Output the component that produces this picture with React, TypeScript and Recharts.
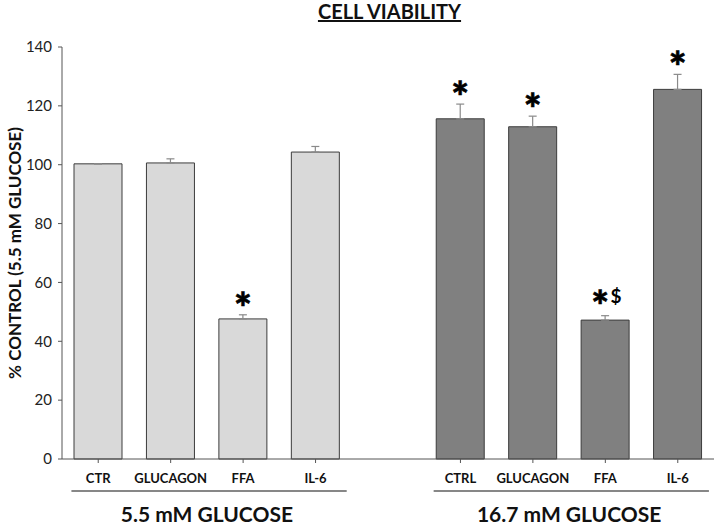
import React from 'react';
import { BarChart, Bar, XAxis, YAxis, Cell, ErrorBar, LabelList } from 'recharts';

const categories = ['CTR', 'GLUCAGON', 'FFA', 'IL-6', '', 'CTRL', 'GLUCAGON', 'FFA', 'IL-6'];
const values: (number | null)[] = [100.3, 100.6, 47.6, 104.3, null, 115.6, 112.9, 47.2, 125.6];
const errors: (number | null)[] = [0, 1.4, 1.4, 1.9, null, 5.0, 3.6, 1.5, 5.1];
const marks = ['', '', '*', '', '', '*', '*', '*$', '*'];
const groupOf: (number | null)[] = [0, 0, 0, 0, null, 1, 1, 1, 1];
const groups = [
  { label: '5.5 mM GLUCOSE', first: 0, last: 3, fill: '#d9d9d9' },
  { label: '16.7 mM GLUCOSE', first: 5, last: 8, fill: '#808080' },
];
const yTicks = [0, 20, 40, 60, 80, 100, 120, 140];

const data = categories.map((c, i) => ({
  cat: c,
  key: `${i}`,
  value: values[i],
  err: errors[i] == null ? [0, 0] : [0, errors[i] as number],
}));

const FONT = 'Lato, "Open Sans", sans-serif';

const CategoryTick = (props: any) => {
  const { x, y, payload } = props;
  const i = payload.index;
  const label = categories[i];
  const slot = 652 / categories.length;
  const grp = groups.find((g) => g.first === i);
  return (
    <g>
      {label && <line x1={x} x2={x} y1={y} y2={y + 4} stroke="#555" strokeWidth={1} />}
      {label && (
        <text x={x} y={y + 24} textAnchor="middle" fontFamily={FONT} fontWeight={700} fontSize={13} fill="#111">
          {label}
        </text>
      )}
      {grp && (
        <g>
          <line
            x1={x - slot * 0.37}
            x2={x + (grp.last - grp.first) * slot + slot * 0.43}
            y1={y + 32}
            y2={y + 32}
            stroke="#111"
            strokeWidth={1.2}
          />
          <text
            x={x + ((grp.last - grp.first) * slot) / 2}
            y={y + 63}
            textAnchor="middle"
            fontFamily={FONT}
            fontWeight={700}
            fontSize={21}
            fill="#111"
          >
            {grp.label}
          </text>
        </g>
      )}
    </g>
  );
};

const MarkLabel = (props: any) => {
  const { x, y, width, height, value } = props;
  const index = Number(value);
  const mark = marks[index];
  const v = values[index];
  if (!mark || v == null) return null;
  const e = errors[index] || 0;
  const top = y - e * (height / v);
  const cx = x + width / 2;
  const hasDollar = mark.includes('$');
  const ax = hasDollar ? cx - 5 : cx;
  return (
    <g>
      <text
        x={ax}
        y={top + (hasDollar ? 5 : 8)}
        textAnchor="middle"
        fontFamily={FONT}
        fontWeight={900}
        fontSize={42}
        fill="#000"
        stroke="#000"
        strokeWidth={0.6}
      >
        *
      </text>
      {hasDollar && (
        <text x={cx + 11} y={top - 13} textAnchor="middle" fontFamily={FONT} fontWeight={700} fontSize={19} fill="#000">
          $
        </text>
      )}
    </g>
  );
};

const YLabel = (props: any) => {
  const vb = props.viewBox || { x: 0, y: 47, width: 62, height: 412 };
  const cx = 17;
  const cy = vb.y + vb.height / 2;
  return (
    <text
      x={cx}
      y={cy}
      transform={`rotate(-90 ${cx} ${cy})`}
      textAnchor="middle"
      dominantBaseline="middle"
      fontFamily={FONT}
      fontWeight={700}
      fontSize={17}
      fill="#111"
    >
      % CONTROL (5.5 mM GLUCOSE)
    </text>
  );
};

export default function App() {
  return (
    <div style={{ position: 'absolute', left: 0, top: 0, width: 719, height: 526, background: '#fff' }}>
      <div
        style={{
          position: 'absolute',
          left: 0,
          width: 719,
          top: -1,
          textAlign: 'center',
          paddingLeft: 60,
          boxSizing: 'border-box',
          fontFamily: FONT,
          fontWeight: 700,
          fontSize: 20,
          lineHeight: '24px',
          textDecoration: 'underline',
          color: '#111',
        }}
      >
        CELL VIABILITY
      </div>
      <BarChart width={719} height={526} data={data} margin={{ top: 47, right: 5, left: 0, bottom: 0 }} barSize={48}>
        <XAxis
          dataKey="key"
          height={67}
          tickLine={false}
          tickSize={0}
          tickMargin={0}
          interval={0}
          axisLine={{ stroke: '#555' }}
          tick={<CategoryTick />}
        />
        <YAxis
          width={62}
          domain={[0, 140]}
          ticks={yTicks}
          interval={0}
          tickSize={4}
          tickMargin={6}
          axisLine={{ stroke: '#555' }}
          tickLine={{ stroke: '#555' }}
          tick={{ fontFamily: FONT, fontSize: 15, fill: '#222' }}
          label={<YLabel />}
        />
        <Bar dataKey="value" stroke="#3c3c3c" strokeWidth={1} isAnimationActive={false}>
          {data.map((d, i) => (
            <Cell key={i} fill={groupOf[i] == null ? 'none' : groups[groupOf[i] as number].fill} />
          ))}
          <ErrorBar dataKey="err" direction="y" width={4} stroke="#8a8a8a" strokeWidth={1.2} isAnimationActive={false} />
          <LabelList dataKey="key" content={<MarkLabel />} />
        </Bar>
      </BarChart>
    </div>
  );
}
